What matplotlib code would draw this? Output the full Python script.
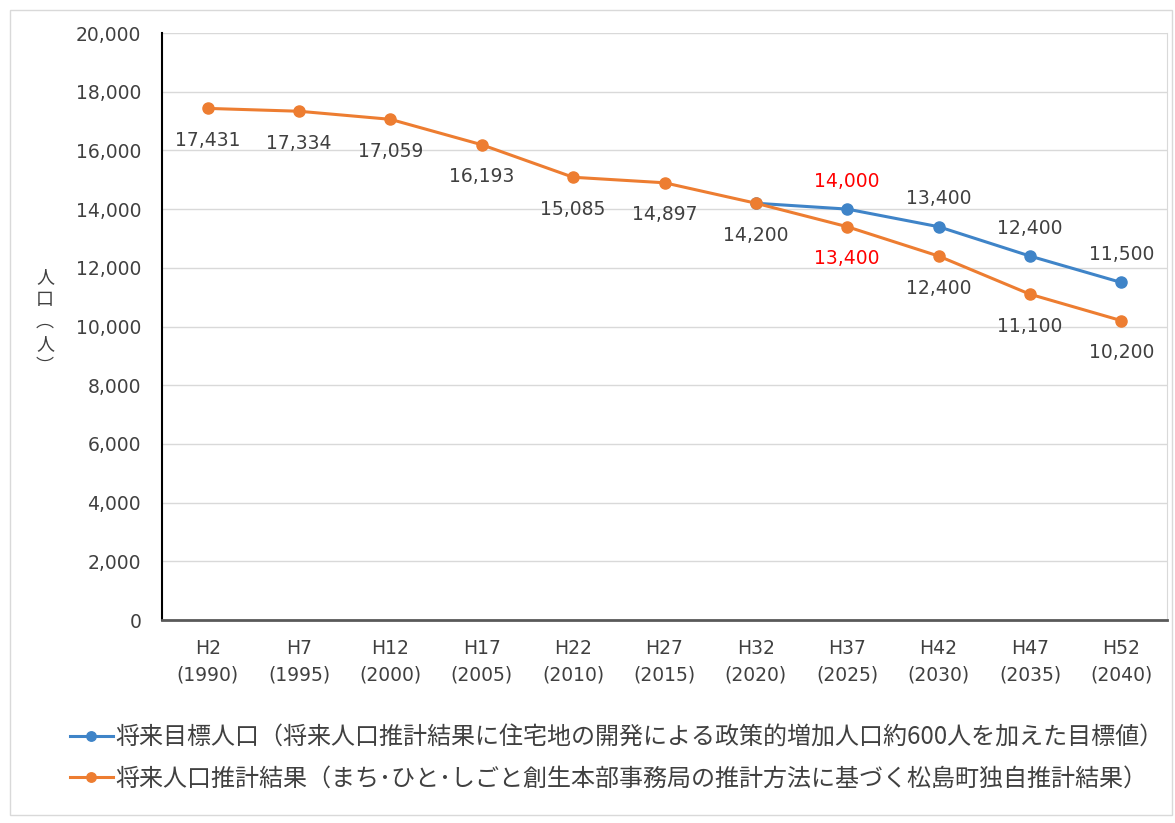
import matplotlib.pyplot as plt
from matplotlib.patches import Rectangle

plt.rcParams['font.family'] = ['Noto Sans CJK JP', 'DejaVu Sans']

cats = ['H2\n(1990)', 'H7\n(1995)', 'H12\n(2000)', 'H17\n(2005)', 'H22\n(2010)', 'H27\n(2015)',
        'H32\n(2020)', 'H37\n(2025)', 'H42\n(2030)', 'H47\n(2035)', 'H52\n(2040)']
proj = [17431, 17334, 17059, 16193, 15085, 14897, 14200, 13400, 12400, 11100, 10200]
target_idx = [6, 7, 8, 9, 10]
target = [14200, 14000, 13400, 12400, 11500]

lab_target = '将来目標人口（将来人口推計結果に住宅地の開発による政策的増加人口約600人を加えた目標値）'
lab_proj = '将来人口推計結果（まち･ひと･しごと創生本部事務局の推計方法に基づく松島町独自推計結果）'

blue = '#3F84C8'
orange = '#ED7D31'
grey = '#404040'
num_font = ['DejaVu Sans']

fig = plt.figure(figsize=(11.75, 8.23), dpi=100)
fig.patches.append(Rectangle((10 / 1175, 8 / 823), 1162 / 1175, 805 / 823, transform=fig.transFigure,
                             fill=False, edgecolor='#D9D9D9', linewidth=1))
ax = fig.add_axes([162 / 1175, 203 / 823, 1005 / 1175, 587 / 823])

x = list(range(len(cats)))
ax.plot(target_idx, target, color=blue, lw=2.2, marker='o', ms=8, label=lab_target, zorder=3)
ax.plot(x, proj, color=orange, lw=2.2, marker='o', ms=8, label=lab_proj, zorder=4)

for i, v in enumerate(proj):
    c = 'red' if i == 7 else grey
    ax.annotate(f'{v:,}', (i, v), xytext=(0, -23), textcoords='offset points',
                ha='center', va='center', fontsize=13.5, color=c, family=num_font)
for i, v in zip(target_idx[1:], target[1:]):
    c = 'red' if i == 7 else grey
    ax.annotate(f'{v:,}', (i, v), xytext=(0, 20), textcoords='offset points',
                ha='center', va='center', fontsize=13.5, color=c, family=num_font)

ax.set_xlim(-0.5, len(cats) - 0.5)
ax.set_ylim(0, 20000)
ax.set_yticks(range(0, 20001, 2000))
ax.set_yticklabels([f'{t:,}' for t in range(0, 20001, 2000)], family=num_font)
ax.set_xticks(x)
ax.set_xticklabels(cats, linespacing=1.45, family=num_font)
ax.tick_params(axis='y', length=0, pad=15, labelsize=13.5, labelcolor=grey)
ax.tick_params(axis='x', length=0, pad=14, labelsize=13.5, labelcolor=grey)
ax.grid(axis='y', color='#D9D9D9', lw=1)
ax.set_axisbelow(True)
ax.spines['left'].set_color('black')
ax.spines['left'].set_linewidth(1.5)
ax.spines['bottom'].set_color('#595959')
ax.spines['bottom'].set_linewidth(2)
ax.spines['top'].set_visible(False)
ax.spines['right'].set_color('#D9D9D9')

fig.text(45 / 1175, 1 - 322 / 823, '人\n口\n︵\n人\n︶', ha='center', va='center',
         fontsize=13, color=grey, linespacing=1.3)

fig.legend(loc='upper left', bbox_to_anchor=(60 / 1175, 1 - 715 / 823), frameon=False,
           fontsize=17.3, labelcolor=grey, handlelength=1.8, handletextpad=0.1, labelspacing=0.62,
           borderaxespad=0, markerscale=0.85)

fig.savefig('out.png', dpi=100)
